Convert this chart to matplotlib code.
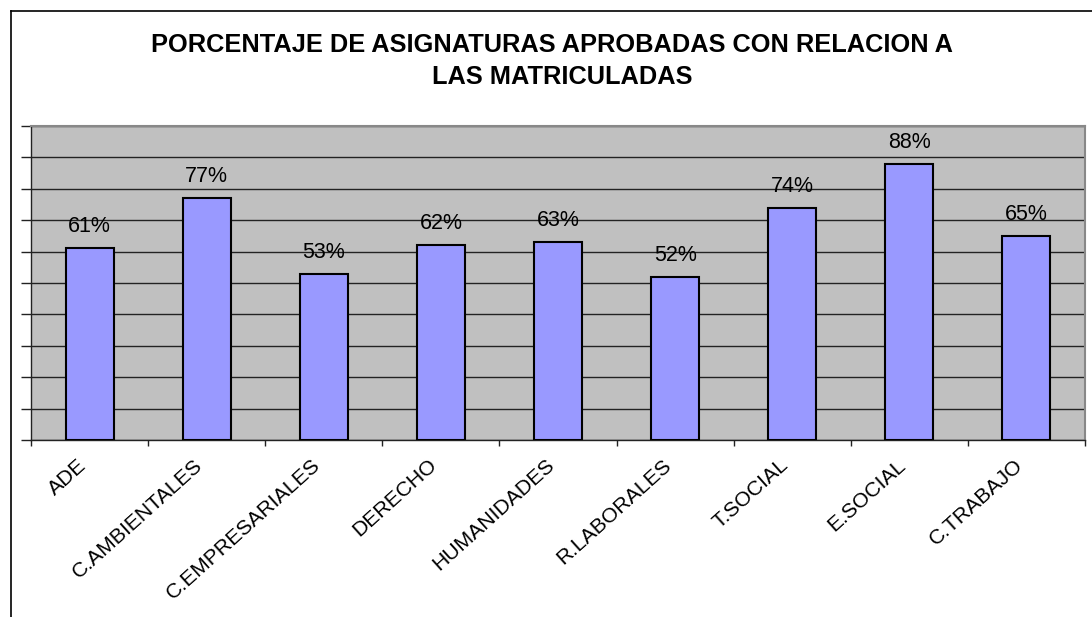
import matplotlib
matplotlib.use("Agg")
import matplotlib.pyplot as plt
from matplotlib.lines import Line2D
import numpy as np

plt.rcParams['font.family'] = ['Liberation Sans', 'DejaVu Sans']

categories = ["ADE", "C.AMBIENTALES", "C.EMPRESARIALES", "DERECHO", "HUMANIDADES",
              "R.LABORALES", "T.SOCIAL", "E.SOCIAL", "C.TRABAJO"]
values = [0.61, 0.77, 0.53, 0.62, 0.63, 0.52, 0.74, 0.88, 0.65]
value_labels = ["61%", "77%", "53%", "62%", "63%", "52%", "74%", "88%", "65%"]
title_lines = ["PORCENTAJE DE ASIGNATURAS APROBADAS CON RELACION A", "LAS MATRICULADAS"]

W, H = 1092, 617
fig = plt.figure(figsize=(W / 100, H / 100), dpi=100)
fig.patch.set_facecolor("white")

# outer frame (left and top lines only)
fig.add_artist(Line2D([11 / W, 11 / W], [0, 1 - 11 / H], color="black", lw=1.2, transform=fig.transFigure))
fig.add_artist(Line2D([11 / W, 1], [1 - 11 / H, 1 - 11 / H], color="black", lw=1.2, transform=fig.transFigure))

ax = fig.add_axes([31 / W, 1 - 440 / H, (1085 - 31) / W, (440 - 126) / H])
ax.set_facecolor("#C0C0C0")

x = np.arange(len(categories))
ax.set_xlim(-0.5, len(categories) - 0.5)
ax.set_ylim(0, 1)
ax.set_yticks(np.arange(0, 1.01, 0.1))
ax.yaxis.grid(True, color="#222222", lw=1.0)
ax.set_axisbelow(True)
ax.tick_params(axis="y", length=7.5, width=1.0, labelleft=False, color="#222222")

bars = ax.bar(x, values, width=0.41, color="#9999FF", edgecolor="black", linewidth=1.5, zorder=3)
for xi, v, lab in zip(x, values, value_labels):
    ax.annotate(lab, (xi, v), xytext=(0, 11.5), textcoords="offset points",
                ha="center", va="baseline", fontsize=15.5, color="black")

ax.set_xticks(x)
ax.set_xticklabels(categories, rotation=42, ha="right", va="top", fontsize=15.2)
ax.tick_params(axis="x", which="major", length=0, pad=11)
ax.set_xticks(np.arange(-0.5, len(categories), 1), minor=True)
ax.tick_params(axis="x", which="minor", length=4, width=1.0, color="#222222")

for s in ["left", "bottom"]:
    ax.spines[s].set_color("#222222")
    ax.spines[s].set_linewidth(1.0)
for s in ["top", "right"]:
    ax.spines[s].set_color("#888888")
    ax.spines[s].set_linewidth(1.5)

fig.text(552 / W, 1 - 45 / H, title_lines[0], ha="center", va="center", fontsize=18.3, fontweight="bold")
fig.text(562 / W, 1 - 77.5 / H, title_lines[1], ha="center", va="center", fontsize=18.3, fontweight="bold")

fig.savefig("out.png", dpi=100, facecolor="white")
